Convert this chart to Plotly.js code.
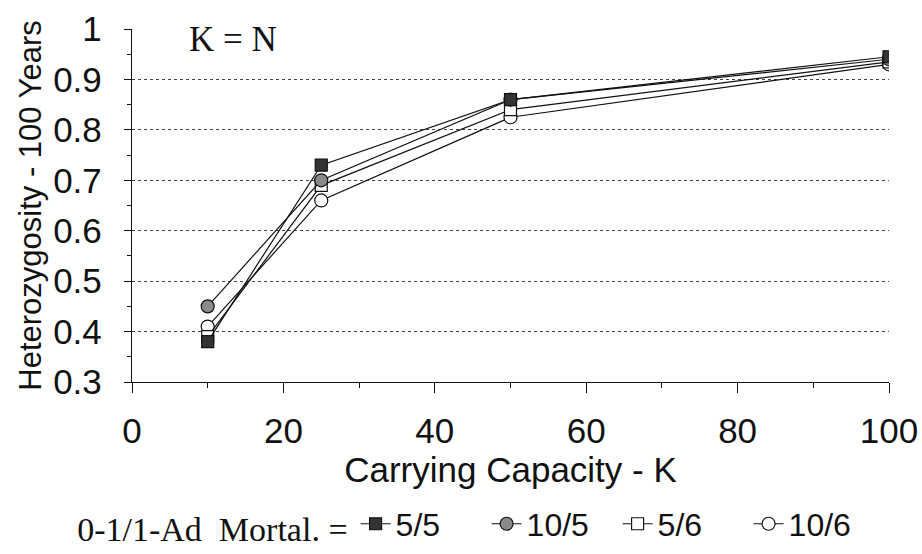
<!DOCTYPE html>
<html>
<head>
<meta charset="utf-8">
<script src="https://cdn.plot.ly/plotly-3.0.1.min.js"></script>
<style>html,body{margin:0;padding:0;background:#fff;}#chart{width:922px;height:554px;}</style>
</head>
<body>
<div id="chart"></div>
<script>
// Data
const capacity = [10, 25, 50, 100];
const het_5_5  = [0.38, 0.73, 0.86, 0.945];
const het_10_5 = [0.45, 0.70, 0.86, 0.94];
const het_5_6  = [0.39, 0.69, 0.84, 0.935];
const het_10_6 = [0.41, 0.66, 0.825, 0.93];
const seriesNames = ["5/5", "10/5", "5/6", "10/6"];
const xTickVals = [0, 20, 40, 60, 80, 100];
const xTickText = ["0", "20", "40", "60", "80", "100"];
const yTickVals = [0.3, 0.4, 0.5, 0.6, 0.7, 0.8, 0.9, 1];
const yTickText = ["0.3", "0.4", "0.5", "0.6", "0.7", "0.8", "0.9", "1"];

const SANS = "Liberation Sans, Arial, sans-serif";
const SERIF = "Liberation Serif, Times New Roman, serif";

function tr(y, name, rank, symbol, fill, size) {
  return {
    x: capacity, y: y, name: name, type: "scatter", mode: "lines+markers",
    legendrank: rank,
    line: {color: "#111", width: 1.2},
    marker: {symbol: symbol, size: size, color: fill, line: {color: "#111", width: 1.2}}
  };
}

const data = [
  tr(het_10_6, seriesNames[3], 4, "circle", "#ffffff", 13),
  tr(het_5_6,  seriesNames[2], 3, "square", "#ffffff", 12),
  tr(het_10_5, seriesNames[1], 2, "circle", "#8a8a8a", 13),
  tr(het_5_5,  seriesNames[0], 1, "square", "#333333", 12)
];

const layout = {
  width: 922, height: 554,
  margin: {l: 132, r: 33, t: 29, b: 172, autoexpand: false},
  paper_bgcolor: "#fff", plot_bgcolor: "#fff",
  font: {family: SANS, color: "#111"},
  showlegend: true,
  legend: {
    orientation: "h", x: -0.075, xanchor: "left", y: -0.48, yanchor: "bottom",
    font: {family: SANS, size: 32, color: "#111"},
    title: {text: "0-1/1-Ad  Mortal. =", font: {family: SERIF, size: 34, color: "#111"}, side: "left"},
    itemwidth: 30, entrywidth: 86, tracegroupgap: 0, bgcolor: "rgba(0,0,0,0)"
  },
  xaxis: {
    range: [0, 100], tickvals: xTickVals, ticktext: xTickText,
    ticks: "outside", ticklen: 10, tickwidth: 1, tickcolor: "#111",
    minor: {dtick: 10, tick0: 0, ticks: "outside", ticklen: 5, tickcolor: "#111", showgrid: false},
    showline: true, linecolor: "#111", linewidth: 1.2,
    showgrid: false, zeroline: false, automargin: false,
    tickfont: {family: SANS, size: 35, color: "#111"},
    ticklabelstandoff: 8,
    title: {text: "Carrying Capacity - K", font: {family: SANS, size: 35, color: "#111"}, standoff: 8}
  },
  xaxis2: {
    range: [0, 100], overlaying: "x", anchor: "y", side: "bottom",
    tickvals: xTickVals, showticklabels: false,
    ticks: "inside", ticklen: 9, tickwidth: 1, tickcolor: "#111",
    minor: {dtick: 10, tick0: 0, ticks: "inside", ticklen: 5, tickcolor: "#111"},
    showline: false, showgrid: false, zeroline: false
  },
  yaxis: {
    range: [0.3, 1.0], tickvals: yTickVals, ticktext: yTickText,
    ticks: "outside", ticklen: 7, tickwidth: 1, tickcolor: "#111",
    minor: {dtick: 0.05, tick0: 0.3, ticks: "outside", ticklen: 4, tickcolor: "#111", showgrid: false},
    showline: true, linecolor: "#111", linewidth: 1.2,
    showgrid: true, gridcolor: "#444", griddash: "dot", gridwidth: 1,
    zeroline: false, automargin: false,
    tickfont: {family: SANS, size: 35, color: "#111"},
    ticklabelstandoff: 15,
    title: {text: "Heterozygosity - 100 Years", font: {family: SANS, size: 31, color: "#111"}, standoff: 2}
  },
  annotations: [{
    x: 13.3, y: 0.98, xref: "x", yref: "y", text: "K = N", showarrow: false,
    font: {family: SERIF, size: 35, color: "#111"}
  }]
};

Plotly.newPlot("chart", data, layout, {displayModeBar: false, staticPlot: true});
</script>
</body>
</html>
